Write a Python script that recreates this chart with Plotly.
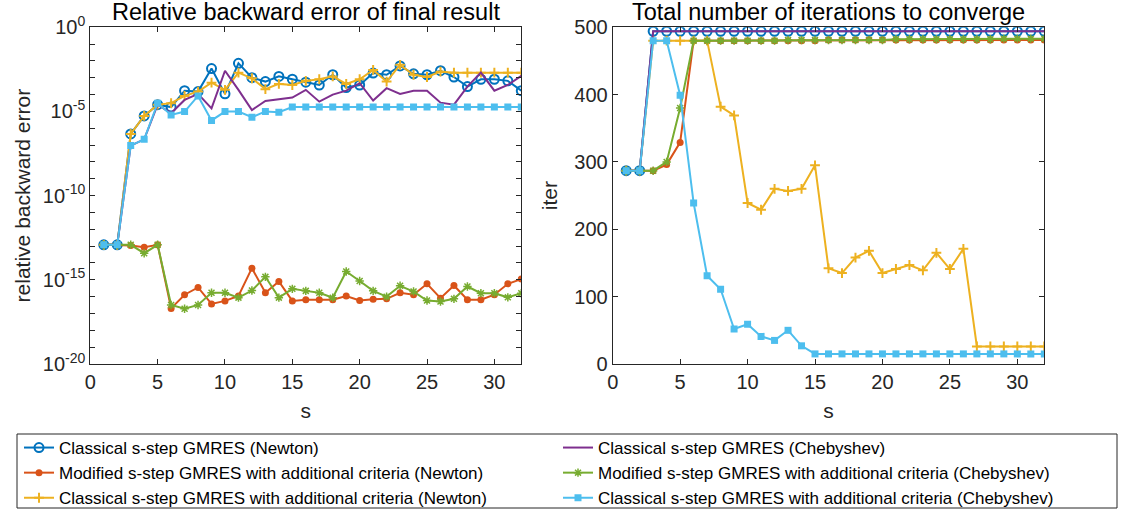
import plotly.graph_objects as go

s = list(range(1, 33))

# Relative backward error (left panel)
err_classical_newton = [1.2e-13, 1.2e-13, 4.6e-7, 5.4e-6, 2.5e-5, 1.8e-5, 1.7e-4, 1.5e-4, 3.5e-3, 1.1e-4,
                        7.2e-3, 1.0e-3, 5.9e-4, 1.2e-3, 8.1e-4, 5.4e-4, 3.7e-4, 1.5e-3, 2.6e-4, 3.7e-4,
                        1.9e-3, 1.5e-3, 5.0e-3, 1.7e-3, 1.5e-3, 2.6e-3, 1.1e-3, 3.0e-4, 8.1e-4, 8.1e-4,
                        6.5e-4, 1.7e-4]
err_modified_newton = [1.2e-13, 1.2e-13, 1.1e-13, 8.7e-14, 1.2e-13, 2.0e-17, 1.3e-16, 3.5e-16, 3.7e-17, 5.6e-17,
                       1.1e-16, 4.9e-15, 1.7e-16, 7.9e-16, 5.6e-17, 6.5e-17, 6.5e-17, 6.5e-17, 1.1e-16, 5.9e-17,
                       7.1e-17, 7.4e-17, 1.7e-16, 1.3e-16, 5.8e-16, 8.1e-17, 4.6e-16, 6.5e-17, 6.5e-17, 1.3e-16,
                       5.8e-16, 1.1e-15]
err_classical_crit_newton = [1.2e-13, 1.2e-13, 4.6e-7, 5.4e-6, 2.5e-5, 3.1e-5, 8.3e-5, 1.5e-4, 5.1e-4, 1.9e-4,
                             2.0e-3, 9.3e-4, 2.1e-4, 4.3e-4, 3.7e-4, 6.5e-4, 8.1e-4, 1.2e-3, 4.3e-4, 8.1e-4,
                             2.9e-3, 5.9e-4, 5.8e-3, 1.5e-3, 1.1e-3, 2.3e-3, 2.0e-3, 2.0e-3, 2.0e-3, 2.0e-3,
                             2.0e-3, 2.0e-3]
err_classical_cheb = [1.2e-13, 1.2e-13, 9.3e-8, 2.2e-7, 2.5e-5, 7.8e-6, 4.8e-5, 1.1e-4, 1.5e-5, 2.6e-3,
                      1.9e-4, 1.2e-5, 4.2e-5, 5.2e-5, 6.6e-5, 1.9e-4, 3.8e-5, 1.0e-4, 1.7e-4, 4.7e-4,
                      4.4e-5, 2.4e-4, 1.1e-4, 1.7e-4, 1.7e-4, 3.3e-5, 2.5e-5, 3.0e-4, 2.0e-3, 1.7e-4,
                      3.7e-4, 1.3e-3]
err_modified_cheb = [1.2e-13, 1.2e-13, 1.2e-13, 3.8e-14, 1.2e-13, 3.2e-17, 1.9e-17, 3.2e-17, 1.7e-16, 1.7e-16,
                     8.7e-17, 2.3e-16, 1.5e-15, 8.7e-17, 2.9e-16, 2.2e-16, 1.7e-16, 8.7e-17, 3.1e-15, 8.5e-16,
                     2.2e-16, 1.0e-16, 4.4e-16, 2.0e-16, 5.9e-17, 5.1e-17, 7.4e-17, 4.0e-16, 1.6e-16, 1.6e-16,
                     9.1e-17, 1.6e-16]
err_classical_crit_cheb = [1.2e-13, 1.2e-13, 9.3e-8, 2.2e-7, 3.1e-5, 6.2e-6, 9.8e-6, 8.3e-5, 2.9e-6, 9.8e-6,
                           9.8e-6, 4.5e-6, 1.0e-5, 8.9e-6] + [1.8e-5] * 18

# Iterations (right panel)
it_classical_newton = [287, 287] + [494] * 30
it_modified_newton = [287, 287, 287, 296, 329] + [480] * 10 + [481] * 17
it_classical_crit_newton = [287, 287, 480, 480, 480, 480, 480, 382, 369, 239,
                            229, 260, 257, 260, 295, 142, 135, 158, 168, 135,
                            141, 147, 139, 165, 141, 171, 26, 26, 26, 26, 26, 26]
it_classical_cheb = [287, 287] + [494] * 30
it_modified_cheb = [287, 287, 287, 300, 380] + [480] * 7 + [481] * 8 + [482] * 8 + [483] * 4
it_classical_crit_cheb = [287, 287, 480, 480, 399, 239, 131, 111, 52, 59,
                          41, 35, 50, 27] + [15] * 18

names = ["Classical s-step GMRES (Newton)",
         "Modified s-step GMRES with additional criteria (Newton)",
         "Classical s-step GMRES with additional criteria (Newton)",
         "Classical s-step GMRES (Chebyshev)",
         "Modified s-step GMRES with additional criteria (Chebyshev)",
         "Classical s-step GMRES with additional criteria (Chebyshev)"]
colors = ["#0072BD", "#D95319", "#EDB120", "#7E2F8E", "#77AC30", "#4DBEEE"]
ranks = [1, 3, 5, 2, 4, 6]
markers = [dict(symbol="circle-open", size=9, line=dict(width=2)),
           dict(symbol="circle", size=7),
           dict(symbol="cross-thin", size=7, line=dict(width=2)),
           None,
           dict(symbol="asterisk-open", size=7, line=dict(width=1.5)),
           dict(symbol="square", size=7)]
left = [err_classical_newton, err_modified_newton, err_classical_crit_newton,
        err_classical_cheb, err_modified_cheb, err_classical_crit_cheb]
right = [it_classical_newton, it_modified_newton, it_classical_crit_newton,
         it_classical_cheb, it_modified_cheb, it_classical_crit_cheb]

fig = go.Figure()
for i in range(6):
    mode = "lines" if markers[i] is None else "lines+markers"
    mk = dict(color=colors[i]) if markers[i] is None else dict(markers[i], color=colors[i])
    if markers[i] is not None and "line" in mk:
        mk["line"] = dict(mk["line"], color=colors[i])
    fig.add_trace(go.Scatter(x=s, y=left[i], mode=mode, name=names[i], legendrank=ranks[i],
                             line=dict(color=colors[i], width=2), marker=mk,
                             xaxis="x", yaxis="y"))
    fig.add_trace(go.Scatter(x=s, y=right[i], mode=mode, name=names[i], showlegend=False,
                             line=dict(color=colors[i], width=2), marker=mk,
                             xaxis="x2", yaxis="y2"))

log_tickvals = [1e-20, 1e-15, 1e-10, 1e-5, 1e0]
log_ticktext = ["10<sup>-20</sup>", "10<sup>-15</sup>", "10<sup>-10</sup>", "10<sup>-5</sup>", "10<sup>0</sup>"]
log_minor = [10.0 ** (-k) for k in range(1, 20) if k % 5 != 0]
x_ticks = [0, 5, 10, 15, 20, 25, 30]
iter_ticks = [0, 100, 200, 300, 400, 500]

axis_color = "#262626"
common_axis = dict(showline=True, linecolor=axis_color, linewidth=1, mirror="ticks",
                   ticks="inside", ticklen=5, tickcolor=axis_color, showgrid=False,
                   zeroline=False, tickfont=dict(size=20, color=axis_color))

W, H = 1121, 511
ydom = [1 - 364 / H, 1 - 27.2 / H]
fig.update_layout(
    width=W, height=H,
    margin=dict(l=0, r=0, t=0, b=0, autoexpand=False),
    paper_bgcolor="white", plot_bgcolor="white",
    font=dict(family="Liberation Sans, Arial, sans-serif", color=axis_color),
    xaxis=dict(common_axis, domain=[90.3 / W, 521.3 / W], range=[0, 32], tickvals=x_ticks,
               anchor="y", title=dict(text="s", font=dict(size=21), standoff=11)),
    yaxis=dict(common_axis, domain=ydom, type="log", range=[-20, 0], tickvals=log_tickvals,
               ticktext=log_ticktext, anchor="x",
               minor=dict(tickvals=log_minor, ticks="inside", ticklen=5, tickcolor=axis_color, showgrid=False),
               title=dict(text="relative backward error", font=dict(size=21), standoff=6)),
    xaxis2=dict(common_axis, domain=[612.7 / W, 1044.3 / W], range=[0, 32], tickvals=x_ticks,
                anchor="y2", title=dict(text="s", font=dict(size=21), standoff=11)),
    yaxis2=dict(common_axis, domain=ydom, range=[0, 500], tickvals=iter_ticks, anchor="x2",
                title=dict(text="iter", font=dict(size=21), standoff=10)),
    legend=dict(orientation="h", x=19 / W, y=1 - 430 / H, xanchor="left", yanchor="top",
                bgcolor="rgba(0,0,0,0)", borderwidth=0,
                font=dict(size=17, color="black"), entrywidth=494, entrywidthmode="pixels",
                tracegroupgap=0, itemwidth=30),
    shapes=[dict(type="rect", xref="paper", yref="paper", x0=17 / W, x1=1117 / W,
                 y0=1 - 508 / H, y1=1 - 434 / H, line=dict(color=axis_color, width=1),
                 fillcolor="rgba(0,0,0,0)", layer="above")],
    annotations=[
        dict(text="Relative backward error of final result", x=(90.3 + 521.3) / 2 / W, y=1 - 12 / H,
             xref="paper", yref="paper", showarrow=False, font=dict(size=23.5, color="black"),
             xanchor="center", yanchor="middle"),
        dict(text="Total number of iterations to converge", x=(612.7 + 1044.3) / 2 / W, y=1 - 12 / H,
             xref="paper", yref="paper", showarrow=False, font=dict(size=23.5, color="black"),
             xanchor="center", yanchor="middle"),
    ],
)

fig.write_html("out.html", config={"displayModeBar": False},
               post_script="document.body.style.margin='0';document.body.style.overflow='hidden';")
